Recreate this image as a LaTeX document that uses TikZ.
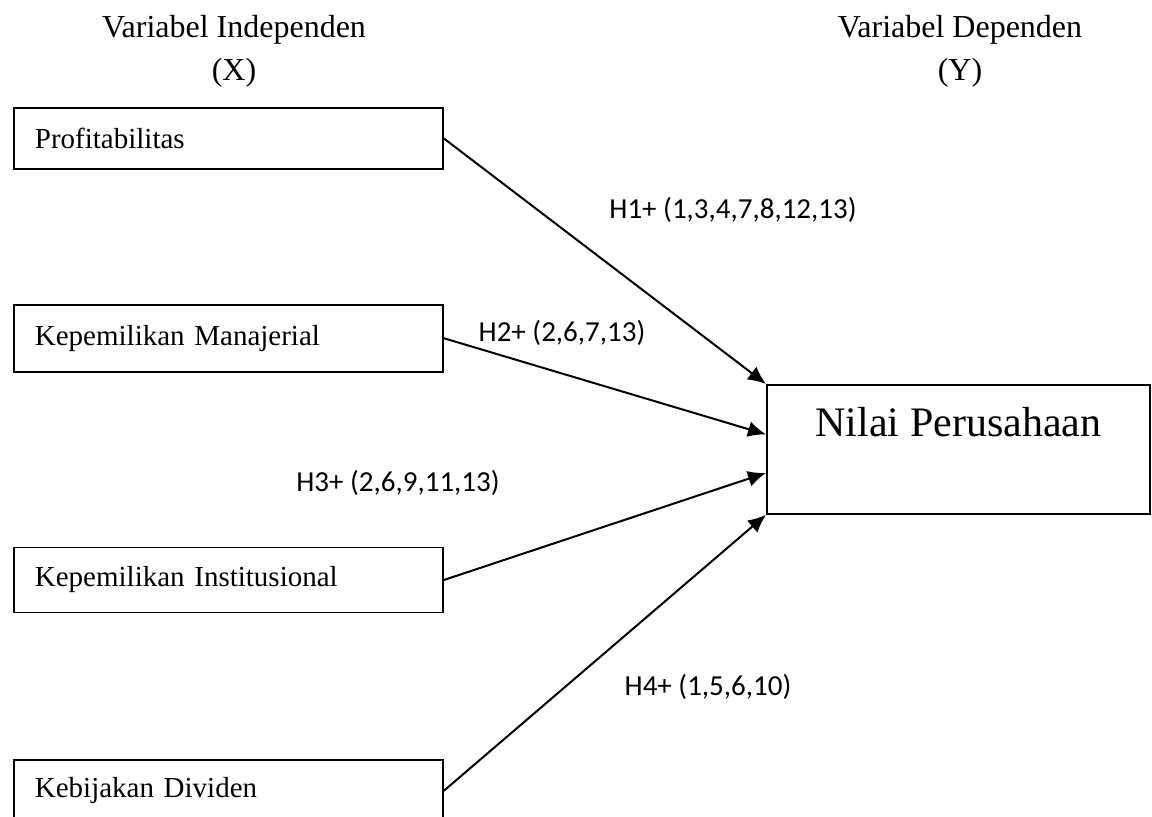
\documentclass[tikz,border=0pt]{standalone}
\usepackage{fontspec}
\setmainfont{Liberation Serif}
\newfontfamily\hypfont{Carlito}
\usepackage{tikz}
\usetikzlibrary{arrows.meta,positioning}

\begin{document}
\begin{tikzpicture}[
  x=0.5pt,y=-0.5pt,
  var/.style={draw,line width=0.9pt,align=left,text width=193.5pt,inner xsep=10.5pt,minimum height=30.5pt,font=\fontsize{14.5}{17}\selectfont},
  dep/.style={draw,line width=0.9pt,align=center,minimum width=191.5pt,minimum height=64.5pt,text height=15pt,text depth=28pt,font=\fontsize{21}{25}\selectfont},
  ttl/.style={align=center,anchor=north,inner sep=0pt,font=\fontsize{16}{21.5}\selectfont},
  hyp/.style={inner sep=0pt,font=\hypfont\fontsize{14.5}{17}\selectfont},
  arr/.style={-{Latex[length=9pt,width=8pt]},line width=1pt}]
  \useasboundingbox (0,0) rectangle (1152,816);
  % judul kolom
  \node[ttl] (tx) at (234,15) {Variabel Independen\\(X)};
  \node[ttl] (ty) at (960,15) {Variabel Dependen\\(Y)};
  % variabel independen
  \node[var,anchor=north west] (prof) at (13,107) {Profitabilitas};
  \node[var,below=67pt of prof,minimum height=33.5pt] (man) {Kepemilikan Manajerial};
  \node[var,below=87pt of man,minimum height=32.5pt] (inst) {Kepemilikan Institusional};
  \node[var,below=73pt of inst] (div) {Kebijakan Dividen};
  % variabel dependen
  \node[dep,anchor=north west] (nilai) at (766,384) {Nilai Perusahaan};
  % hipotesis
  \node[hyp] (h1) at (733,210) {H1+ (1,3,4,7,8,12,13)};
  \node[hyp] (h2) at (562,333) {H2+ (2,6,7,13)};
  \node[hyp] (h3) at (398,483) {H3+ (2,6,9,11,13)};
  \node[hyp] (h4) at (708,687) {H4+ (1,5,6,10)};
  \draw[arr] (prof.east)--(nilai.north west);
  \draw[arr] (man.east)--([yshift=7.5pt]nilai.west);
  \draw[arr] (inst.east)--([yshift=-11.75pt]nilai.west);
  \draw[arr] (div.east)--(nilai.south west);
\end{tikzpicture}
\end{document}
